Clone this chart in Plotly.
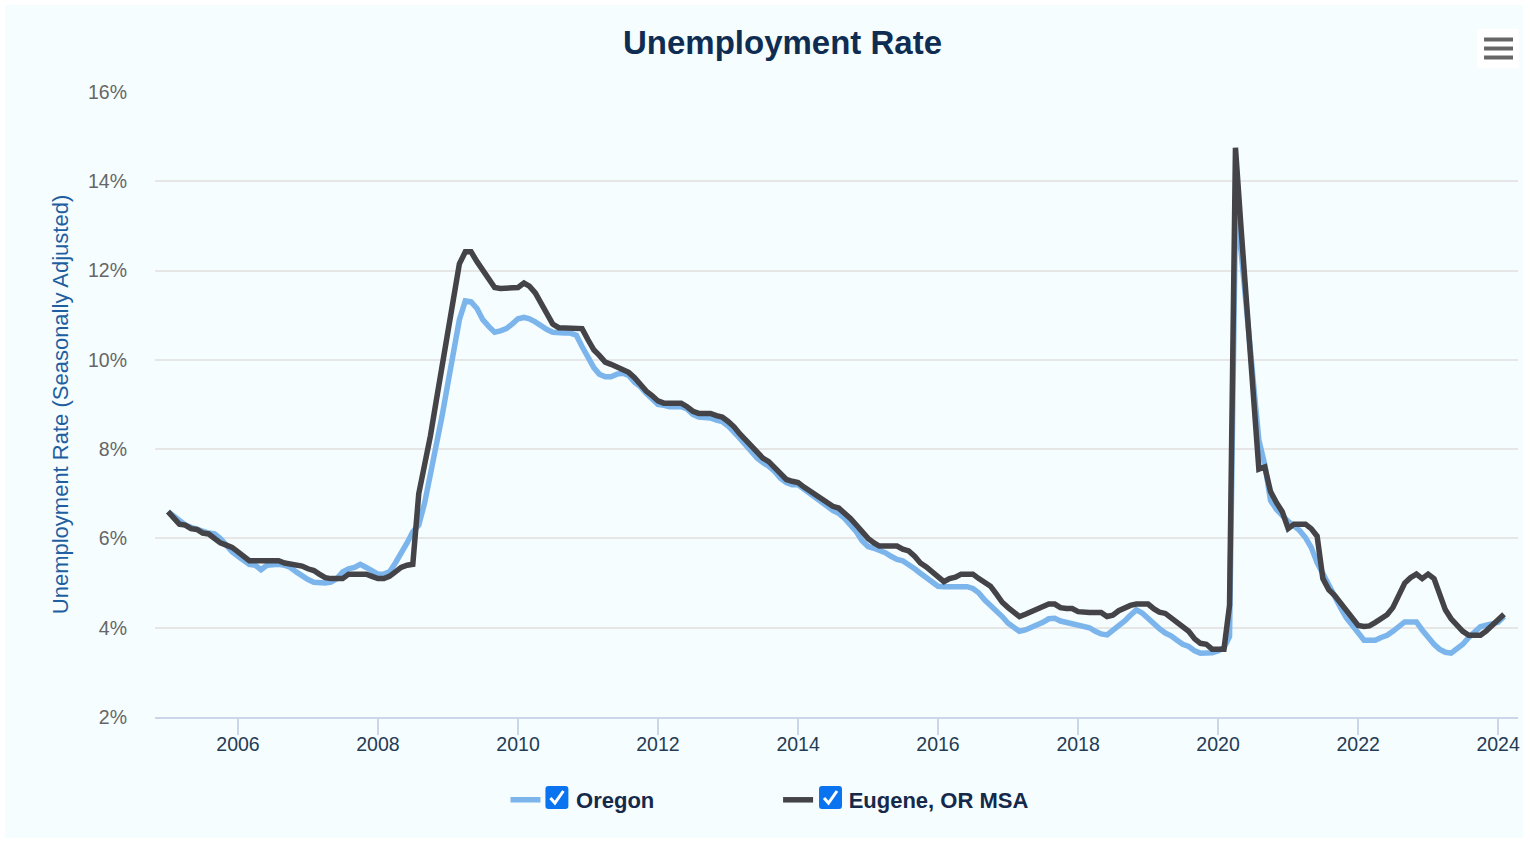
import plotly.graph_objects as go
import pandas as pd

# ---------------- data (monthly, Jan 2005 - Feb 2024) ----------------
START = "2005-01-01"
OREGON = [
    6.6, 6.5, 6.4, 6.3, 6.25, 6.2, 6.15, 6.12, 6.1, 6.0, 5.85, 5.7,          # 2005
    5.6, 5.5, 5.42, 5.4, 5.3, 5.4, 5.42, 5.42, 5.4, 5.35, 5.25, 5.15,        # 2006
    5.08, 5.02, 5.0, 5.0, 5.02, 5.1, 5.25, 5.32, 5.35, 5.42, 5.35, 5.28,     # 2007
    5.2, 5.2, 5.25, 5.45, 5.65, 5.9, 6.15, 6.3, 6.8, 7.4, 8.1, 8.75,         # 2008
    9.5, 10.3, 10.9, 11.32, 11.3, 11.15, 10.9, 10.75, 10.62, 10.65, 10.7, 10.8,   # 2009
    10.92, 10.95, 10.92, 10.85, 10.75, 10.68, 10.62, 10.6, 10.6, 10.6, 10.55, 10.3,  # 2010
    10.05, 9.82, 9.68, 9.62, 9.62, 9.68, 9.7, 9.65, 9.5, 9.4, 9.25, 9.12,    # 2011
    9.0, 8.98, 8.95, 8.95, 8.95, 8.9, 8.78, 8.72, 8.72, 8.7, 8.65, 8.62,     # 2012
    8.52, 8.4, 8.25, 8.1, 7.95, 7.8, 7.7, 7.62, 7.5, 7.35, 7.25, 7.2,        # 2013
    7.2, 7.1, 7.0, 6.9, 6.8, 6.72, 6.63, 6.56, 6.45, 6.3, 6.15, 5.95,        # 2014
    5.82, 5.78, 5.74, 5.68, 5.6, 5.53, 5.5, 5.42, 5.32, 5.22, 5.12, 5.02,    # 2015
    4.93, 4.92, 4.92, 4.92, 4.92, 4.92, 4.88, 4.78, 4.62, 4.5, 4.4, 4.25,    # 2016
    4.1, 4.0, 3.92, 3.95, 4.0, 4.05, 4.12, 4.2, 4.21, 4.15, 4.12, 4.1,       # 2017
    4.06, 4.02, 4.0, 3.92, 3.86, 3.84, 3.93, 4.05, 4.15, 4.28, 4.4, 4.33,    # 2018
    4.2, 4.1, 3.98, 3.88, 3.82, 3.72, 3.63, 3.58, 3.48, 3.43, 3.42, 3.44,    # 2019
    3.48, 3.55, 3.8, 13.2, 12.4, 10.9, 9.5, 8.2, 7.65, 6.85, 6.65, 6.5,      # 2020
    6.38, 6.28, 6.18, 6.02, 5.8, 5.46, 5.2, 4.92, 4.7, 4.45, 4.22, 4.05,     # 2021
    3.85, 3.72, 3.72, 3.72, 3.78, 3.83, 3.92, 4.02, 4.13, 4.13, 4.13, 3.95,  # 2022
    3.78, 3.63, 3.52, 3.45, 3.43, 3.52, 3.63, 3.78, 3.92, 4.02, 4.06, 4.08,  # 2023
    4.12, 4.25,                                                              # 2024
]
EUGENE = [
    6.6, 6.45, 6.32, 6.3, 6.22, 6.2, 6.12, 6.1, 6.0, 5.9, 5.85, 5.8,         # 2005
    5.7, 5.6, 5.5, 5.5, 5.5, 5.5, 5.5, 5.5, 5.45, 5.43, 5.4, 5.38,           # 2006
    5.32, 5.28, 5.2, 5.12, 5.1, 5.1, 5.1, 5.2, 5.2, 5.2, 5.2, 5.15,          # 2007
    5.1, 5.1, 5.15, 5.25, 5.35, 5.4, 5.42, 7.0, 7.6, 8.3, 9.1, 9.9,          # 2008
    10.65, 11.45, 12.15, 12.42, 12.42, 12.2, 12.0, 11.8, 11.62, 11.6, 11.6, 11.6,  # 2009
    11.62, 11.72, 11.65, 11.5, 11.25, 11.0, 10.8, 10.72, 10.72, 10.72, 10.72, 10.7,  # 2010
    10.45, 10.22, 10.1, 9.95, 9.9, 9.85, 9.8, 9.72, 9.6, 9.45, 9.3, 9.2,     # 2011
    9.08, 9.03, 9.03, 9.03, 9.03, 8.95, 8.85, 8.8, 8.8, 8.8, 8.75, 8.72,     # 2012
    8.62, 8.5, 8.35, 8.2, 8.05, 7.9, 7.8, 7.72, 7.58, 7.42, 7.32, 7.28,      # 2013
    7.25, 7.15, 7.07, 6.97, 6.88, 6.8, 6.72, 6.68, 6.58, 6.45, 6.3, 6.15,    # 2014
    6.0, 5.9, 5.83, 5.83, 5.83, 5.83, 5.76, 5.72, 5.6, 5.45, 5.36, 5.25,     # 2015
    5.12, 5.03, 5.1, 5.13, 5.2, 5.21, 5.2, 5.1, 5.0, 4.93, 4.75, 4.57,       # 2016
    4.45, 4.35, 4.25, 4.3, 4.35, 4.43, 4.45, 4.53, 4.53, 4.45, 4.43, 4.43,   # 2017
    4.36, 4.34, 4.34, 4.34, 4.34, 4.25, 4.28, 4.38, 4.45, 4.5, 4.53, 4.53,   # 2018
    4.53, 4.42, 4.35, 4.32, 4.22, 4.12, 4.03, 3.92, 3.75, 3.65, 3.63, 3.52,  # 2019
    3.52, 3.52, 4.5, 14.75, 12.9, 11.0, 9.4, 7.55, 7.6, 7.05, 6.8, 6.6,      # 2020
    6.22, 6.32, 6.32, 6.32, 6.22, 6.05, 5.1, 4.85, 4.72, 4.55, 4.35, 4.18,   # 2021
    4.05, 4.03, 4.04, 4.12, 4.2, 4.29, 4.45, 4.75, 5.0, 5.12, 5.2, 5.1,      # 2022
    5.2, 5.1, 4.8, 4.4, 4.2, 4.04, 3.92, 3.83, 3.83, 3.83, 3.93, 4.05,       # 2023
    4.15, 4.3,                                                               # 2024
]
SERIES_NAMES = ["Oregon", "Eugene, OR MSA"]
TICK_YEARS = [2006, 2008, 2010, 2012, 2014, 2016, 2018, 2020, 2022, 2024]
Y_TICKS = [2, 4, 6, 8, 10, 12, 14, 16]
TITLE = "Unemployment Rate"
Y_TITLE = "Unemployment Rate (Seasonally Adjusted)"

dates = pd.date_range(START, periods=len(OREGON), freq="MS")

# ---------------- layout geometry helpers ----------------
W, H = 1530, 843
ML, MR, MT, MB = 155, 10, 92, 126
PW, PH = W - ML - MR, H - MT - MB


def px(x):
    return (x - ML) / PW


def py(y):
    return (H - MB - y) / PH


FONT = "Liberation Sans, Arial, sans-serif"
BG = "#f5fdff"
C_OR = "#7cb5ec"
C_EU = "#434348"
LEG_COLOR = "#15294a"
GAP = "\u00a0" * 5  # room for the checkbox drawn in front of each legend label

fig = go.Figure()
fig.add_trace(go.Scatter(x=dates, y=OREGON, mode="lines", name=GAP + "<b>" + SERIES_NAMES[0] + "</b>",
                         line=dict(color=C_OR, width=5.5), legend="legend",
                         hovertemplate="%{x|%b %Y}: %{y:.1f}%<extra>Oregon</extra>"))
fig.add_trace(go.Scatter(x=dates, y=EUGENE, mode="lines", name=GAP + "<b>" + SERIES_NAMES[1] + "</b>",
                         line=dict(color=C_EU, width=5.5), legend="legend2",
                         hovertemplate="%{x|%b %Y}: %{y:.1f}%<extra>Eugene, OR MSA</extra>"))


def rrect(x0, y0, x1, y1, r):
    pts = [
        f"M{px(x0 + r)},{py(y0)}",
        f"L{px(x1 - r)},{py(y0)}",
        f"Q{px(x1)},{py(y0)} {px(x1)},{py(y0 + r)}",
        f"L{px(x1)},{py(y1 - r)}",
        f"Q{px(x1)},{py(y1)} {px(x1 - r)},{py(y1)}",
        f"L{px(x0 + r)},{py(y1)}",
        f"Q{px(x0)},{py(y1)} {px(x0)},{py(y1 - r)}",
        f"L{px(x0)},{py(y0 + r)}",
        f"Q{px(x0)},{py(y0)} {px(x0 + r)},{py(y0)}",
    ]
    return " ".join(pts) + " Z"


shapes = []
# chart background panel inside a thin white frame
shapes.append(dict(type="rect", xref="paper", yref="paper", x0=px(5), x1=px(1525), y0=py(838), y1=py(5),
                   fillcolor=BG, line=dict(width=0), layer="below"))
# hamburger (export menu) button
shapes.append(dict(type="rect", xref="paper", yref="paper", x0=px(1479), x1=px(1521), y0=py(68), y1=py(29),
                   fillcolor="#ffffff", line=dict(width=0), layer="below"))
for yy in (39.5, 48.5, 57.5):
    shapes.append(dict(type="line", xref="paper", yref="paper", x0=px(1486), x1=px(1515), y0=py(yy), y1=py(yy),
                       line=dict(color="#666666", width=4)))
# legend checkboxes
for bx in (546, 820):
    by = 786
    shapes.append(dict(type="path", xref="paper", yref="paper", path=rrect(bx, by, bx + 23, by + 23, 3),
                       fillcolor="#0a74f0", line=dict(width=0)))
    shapes.append(dict(type="path", xref="paper", yref="paper",
                       path=f"M{px(bx + 5)},{py(by + 12)} L{px(bx + 9.5)},{py(by + 17)} L{px(bx + 18)},{py(by + 5)}",
                       line=dict(color="#ffffff", width=3)))

fig.update_layout(
    width=W, height=H,
    margin=dict(l=ML, r=MR, t=MT, b=MB, pad=0),
    paper_bgcolor="#ffffff",
    plot_bgcolor=BG,
    font=dict(family=FONT),
    title=dict(text="<b>" + TITLE + "</b>", x=782.5 / W, xref="container", xanchor="center",
               y=1 - 42 / H, yref="container", yanchor="middle",
               font=dict(size=33, color="#0f2d52", family=FONT)),
    xaxis=dict(type="date", range=["2004-10-25", "2024-04-14"],
               tickvals=[f"{y}-01-01" for y in TICK_YEARS], ticktext=[str(y) for y in TICK_YEARS],
               showgrid=False, zeroline=False, showline=True, linecolor="#ccd6eb", linewidth=2,
               ticks="outside", ticklen=16, tickwidth=2, tickcolor="#ccd6eb", ticklabelstandoff=-7,
               tickfont=dict(size=19.5, color="#243b55", family=FONT)),
    yaxis=dict(range=[2, 16], tickvals=Y_TICKS, ticktext=[f"{v}%" for v in Y_TICKS],
               showgrid=True, gridcolor="#e6e6e6", gridwidth=2, zeroline=False, showline=False,
               ticks="", ticklabelstandoff=27,
               tickfont=dict(size=19.5, color="#666666", family=FONT),
               title=dict(text=Y_TITLE, standoff=13, font=dict(size=22, color="#1f5f9f", family=FONT))),
    legend=dict(orientation="h", x=px(506), xanchor="left", y=py(800), yanchor="middle",
                xref="paper", yref="paper", bgcolor="rgba(0,0,0,0)",
                font=dict(size=22, color=LEG_COLOR, family=FONT)),
    legend2=dict(orientation="h", x=px(779), xanchor="left", y=py(800), yanchor="middle",
                 xref="paper", yref="paper", bgcolor="rgba(0,0,0,0)",
                 font=dict(size=22, color=LEG_COLOR, family=FONT)),
    shapes=shapes,
    showlegend=True,
)

fig.write_html("out.html", config={"displayModeBar": False},
               post_script="document.body.style.margin='0px';")
